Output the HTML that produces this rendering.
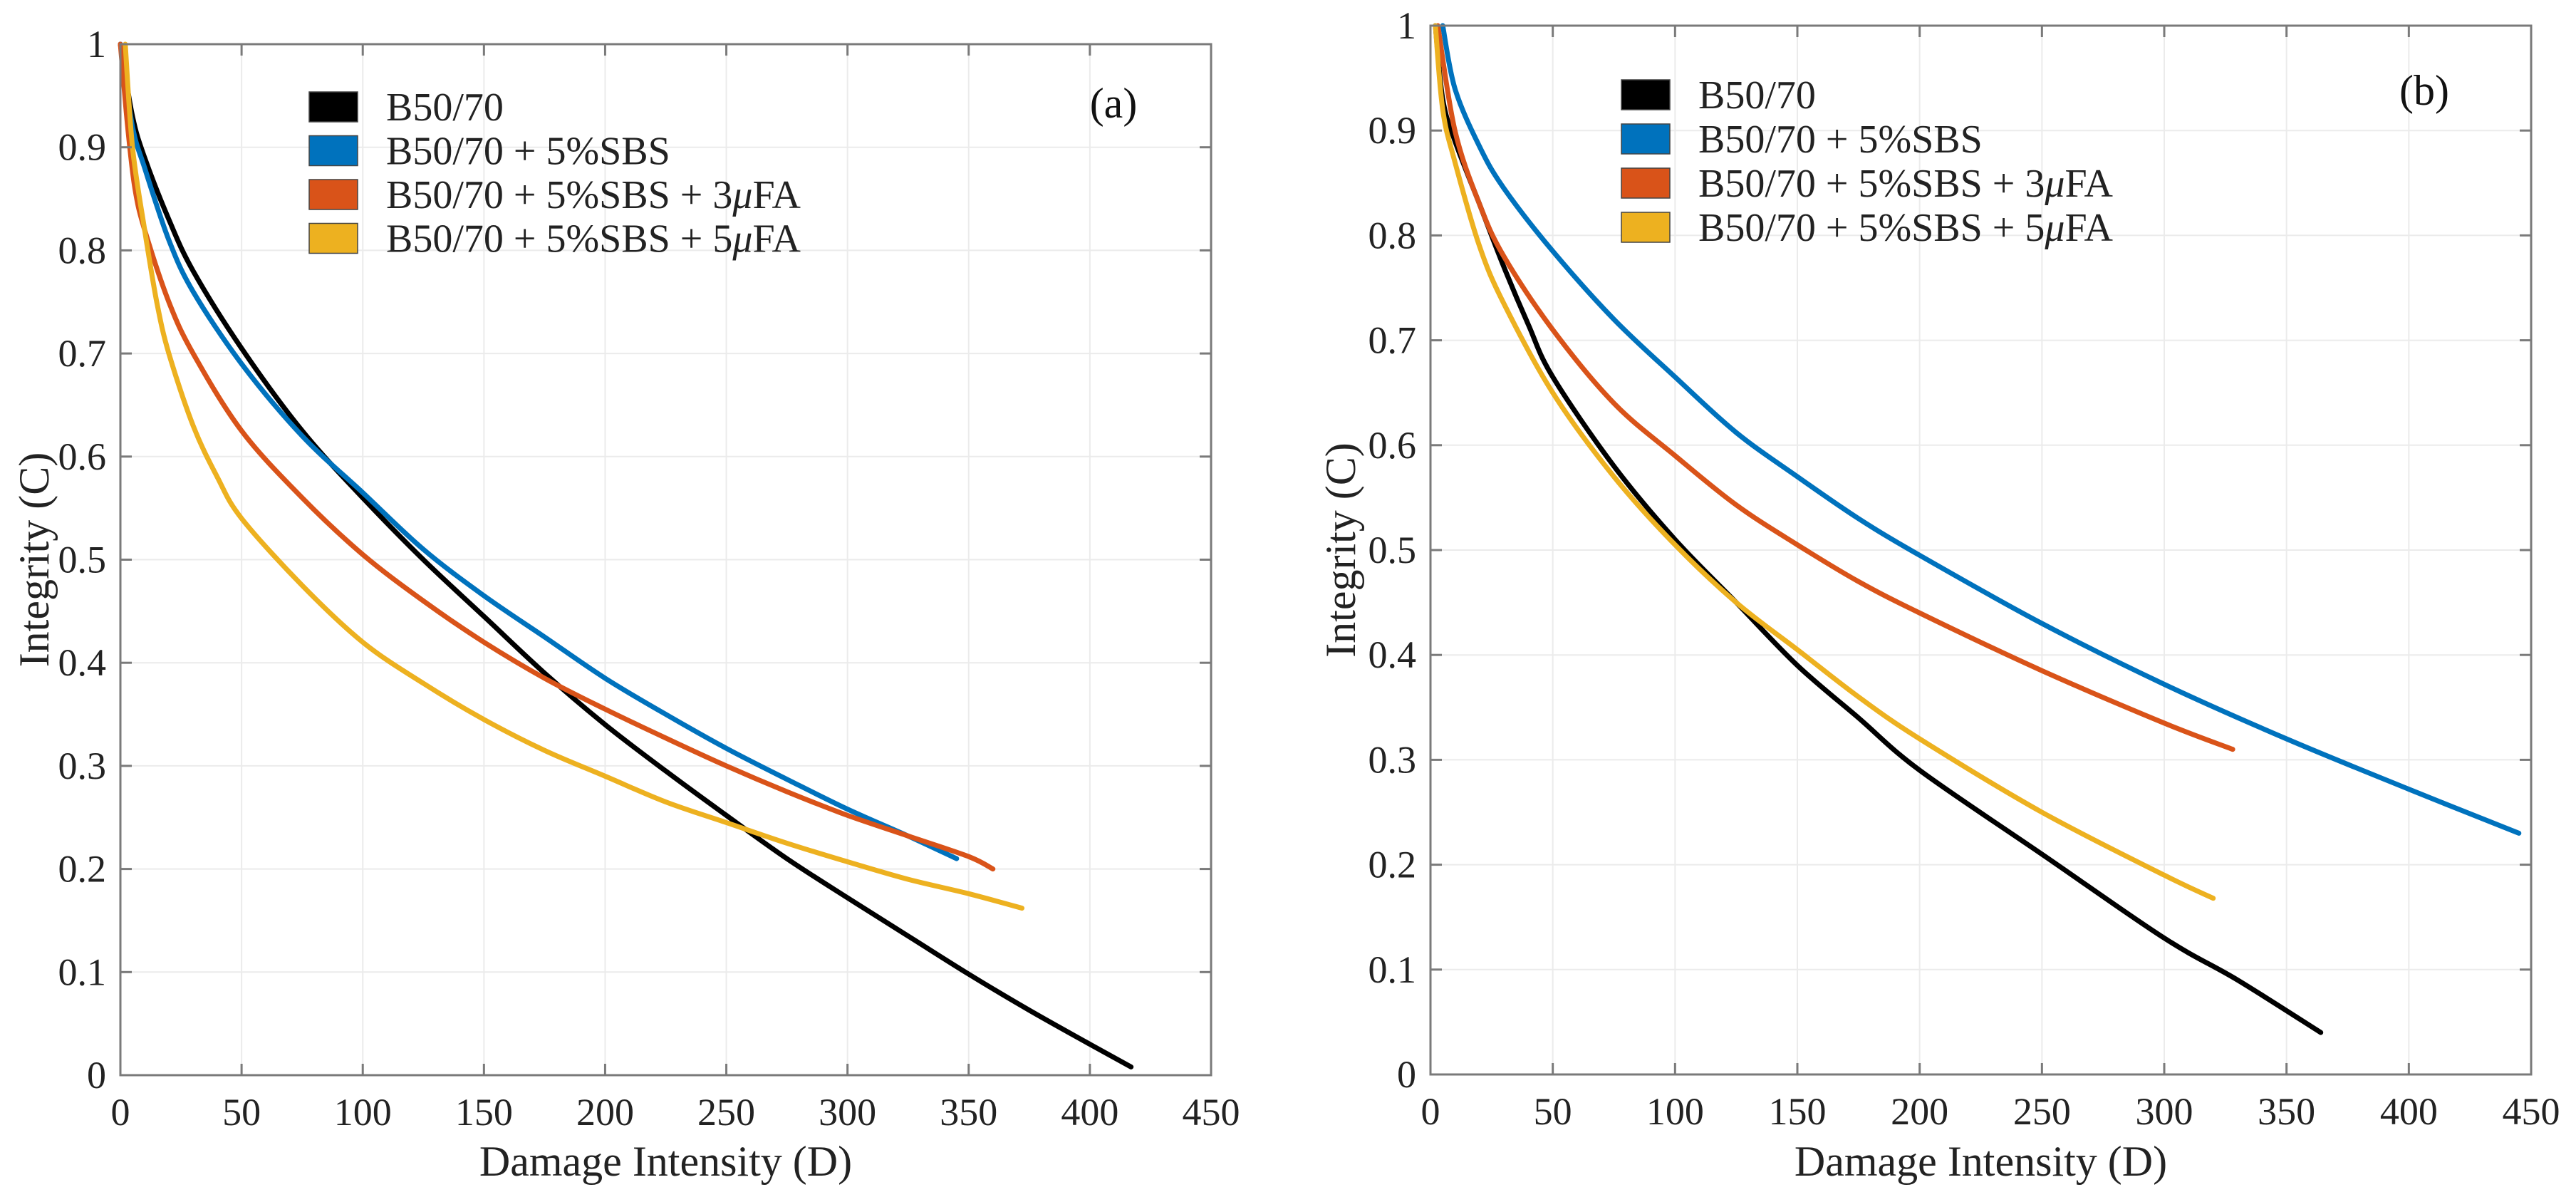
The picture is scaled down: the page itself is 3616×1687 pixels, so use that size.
<!DOCTYPE html>
<html><head><meta charset="utf-8"><style>
html,body{margin:0;padding:0;background:#fff;}
svg{display:block;}
svg text{font-family:"Liberation Serif","Times New Roman","DejaVu Serif","Noto Serif CJK SC",serif;}
</style></head><body>
<svg id="fig" width="3616" height="1687" viewBox="0 0 3616 1687" xmlns="http://www.w3.org/2000/svg"></svg>
<script>
const xTicks=[0,50,100,150,200,250,300,350,400,450];
const yTicks=[0,0.1,0.2,0.3,0.4,0.5,0.6,0.7,0.8,0.9,1];
const yTickLabels=["0","0.1","0.2","0.3","0.4","0.5","0.6","0.7","0.8","0.9","1"];
const seriesNames=["B50/70","B50/70 + 5%SBS","B50/70 + 5%SBS + 3","B50/70 + 5%SBS + 5"];
const colors=["#000000","#0072BD","#D95319","#EDB120"];
// panel (a)
const aBaseX=[0,5,10,20,30,50,75,100,125,150,175,200,225,250,275,300,325,350,375,400,417];
const aBaseY=[1,0.93,0.89,0.83,0.78,0.705,0.625,0.56,0.5,0.445,0.39,0.34,0.295,0.252,0.21,0.172,0.135,0.098,0.063,0.03,0.008];
const aSbsX=[0,5,10,20,30,50,75,100,125,150,175,200,225,250,275,300,325,345];
const aSbsY=[1,0.92,0.88,0.81,0.76,0.69,0.62,0.565,0.51,0.465,0.425,0.385,0.35,0.317,0.287,0.258,0.232,0.21];
const aFa3X=[0,3,6,10,20,30,50,75,100,125,150,175,200,225,250,275,300,325,350,360];
const aFa3Y=[1,0.92,0.86,0.82,0.75,0.70,0.625,0.56,0.505,0.46,0.42,0.385,0.355,0.327,0.3,0.275,0.252,0.232,0.212,0.2];
const aFa5X=[2,5,10,15,20,30,40,50,75,100,125,150,175,200,225,250,275,300,325,350,372];
const aFa5Y=[1,0.9,0.82,0.75,0.70,0.63,0.58,0.54,0.475,0.42,0.38,0.345,0.315,0.29,0.265,0.245,0.225,0.207,0.19,0.176,0.162];
// panel (b)
const bBaseX=[2,5,10,20,30,40,50,75,100,125,150,175,200,250,300,330,364];
const bBaseY=[1,0.93,0.89,0.83,0.77,0.715,0.665,0.58,0.51,0.45,0.39,0.34,0.29,0.21,0.13,0.09,0.04];
const bSbsX=[5,10,20,30,50,75,100,125,150,175,200,250,300,350,400,445];
const bSbsY=[1,0.94,0.885,0.845,0.785,0.72,0.665,0.612,0.57,0.53,0.495,0.43,0.372,0.32,0.272,0.23];
const bFa3X=[3,10,20,30,50,75,100,125,150,175,200,250,300,328];
const bFa3Y=[1,0.9,0.83,0.78,0.71,0.64,0.59,0.543,0.505,0.47,0.44,0.385,0.335,0.31];
const bFa5X=[2,5,10,20,30,50,75,100,125,150,175,200,250,300,320];
const bFa5Y=[1,0.92,0.87,0.79,0.735,0.65,0.57,0.505,0.45,0.405,0.36,0.32,0.25,0.19,0.168];

const NS="http://www.w3.org/2000/svg";
const svg=document.getElementById('fig');
function mk(tag,attrs,parent){const e=document.createElementNS(NS,tag);for(const k in attrs)e.setAttribute(k,attrs[k]);(parent||svg).appendChild(e);return e;}
function smooth(p){
  let d='M'+p[0][0].toFixed(1)+','+p[0][1].toFixed(1);
  for(let i=0;i<p.length-1;i++){
    const p0=p[Math.max(0,i-1)],p1=p[i],p2=p[i+1],p3=p[Math.min(p.length-1,i+2)];
    const c1=[p1[0]+(p2[0]-p0[0])/6,p1[1]+(p2[1]-p0[1])/6];
    const c2=[p2[0]-(p3[0]-p1[0])/6,p2[1]-(p3[1]-p1[1])/6];
    d+=' C'+c1[0].toFixed(1)+','+c1[1].toFixed(1)+' '+c2[0].toFixed(1)+','+c2[1].toFixed(1)+' '+p2[0].toFixed(1)+','+p2[1].toFixed(1);
  }
  return d;
}

function panel(cfg){
  const g=mk('g',{});
  
  
  const sx=v=>cfg.x0+(v/450)*(cfg.x1-cfg.x0);
  const sy=v=>cfg.y1-v*(cfg.y1-cfg.y0);
  xTicks.forEach(t=>{
    const l=mk('line',{x1:sx(t),x2:sx(t),y1:cfg.y0,y2:cfg.y1,stroke:'#ebebeb','stroke-width':2},g);
    
    
  });
  yTicks.forEach(t=>{
    const l=mk('line',{x1:cfg.x0,x2:cfg.x1,y1:sy(t),y2:sy(t),stroke:'#ebebeb','stroke-width':2},g);
    
    
  });
  cfg.series.forEach((s,i)=>{
    const pts=s[0].map((x,j)=>[sx(x),sy(s[1][j])]);
    const p=mk('path',{d:smooth(pts),fill:'none',stroke:colors[i],'stroke-width':7,'stroke-linejoin':'round','stroke-linecap':'round'},g);
    
    
  });
  const box=mk('rect',{x:cfg.x0,y:cfg.y0,width:cfg.x1-cfg.x0,height:cfg.y1-cfg.y0,fill:'none',stroke:'#7a7a7a','stroke-width':3},g);
  
  
  xTicks.forEach(t=>{
    mk('line',{x1:sx(t),x2:sx(t),y1:cfg.y1,y2:cfg.y1-16,stroke:'#7a7a7a','stroke-width':3},g);
    mk('line',{x1:sx(t),x2:sx(t),y1:cfg.y0,y2:cfg.y0+16,stroke:'#7a7a7a','stroke-width':3},g);
    const tx=mk('text',{x:sx(t),y:cfg.y1+70,'text-anchor':'middle','font-size':54,fill:'#222'},g);
    tx.textContent=String(t);
    
    
  });
  yTicks.forEach((t,i)=>{
    mk('line',{x1:cfg.x0,x2:cfg.x0+16,y1:sy(t),y2:sy(t),stroke:'#7a7a7a','stroke-width':3},g);
    mk('line',{x1:cfg.x1,x2:cfg.x1-16,y1:sy(t),y2:sy(t),stroke:'#7a7a7a','stroke-width':3},g);
    const tx=mk('text',{x:cfg.x0-20,y:sy(t)+18,'text-anchor':'end','font-size':54,fill:'#222'},g);
    tx.textContent=yTickLabels[i];
    
    
  });
  const xl=mk('text',{x:(cfg.x0+cfg.x1)/2,y:1650,'text-anchor':'middle','font-size':60,fill:'#222'},g);
  xl.textContent='Damage Intensity (D)';
  
  
  const yx=cfg.ylabelX, yy=(cfg.y0+cfg.y1)/2;
  const yl=mk('text',{x:yx,y:yy,'text-anchor':'middle','font-size':60,fill:'#222',transform:`rotate(-90 ${yx} ${yy})`},g);
  yl.textContent='Integrity (C)';
  
  
  const pl=mk('text',{x:cfg.tagX,y:cfg.tagY,'text-anchor':'middle','font-size':60,fill:'#111'},g);
  pl.textContent=cfg.tag;
  
  
  const lg=mk('g',{},g);
  
  
  seriesNames.forEach((n,i)=>{
    const cy=cfg.legY+i*cfg.legStep;
    const r=mk('rect',{x:cfg.legX,y:cy-21,width:68,height:42,fill:colors[i],stroke:'#444','stroke-width':1.5},lg);
    
    
    const t=mk('text',{x:cfg.legX+108,y:cy+19,'font-size':56,fill:'#222'},lg);
    t.textContent=n;
    if(i>=2){
      const mu=mk('tspan',{'font-style':'italic'},t);mu.textContent='μ';
      const fa=mk('tspan',{},t);fa.textContent='FA';
    }
    
    
  });
}
panel({name:'panel-a',x0:169,x1:1700,y0:62,y1:1509,ylabelX:68,tag:'(a)',tagX:1563,tagY:165,legX:434,legY:150,legStep:61.5,
  series:[[aBaseX,aBaseY],[aSbsX,aSbsY],[aFa3X,aFa3Y],[aFa5X,aFa5Y]]});
panel({name:'panel-b',x0:2008,x1:3553,y0:36,y1:1508,ylabelX:1902,tag:'(b)',tagX:3403,tagY:147,legX:2276,legY:133,legStep:62,
  series:[[bBaseX,bBaseY],[bSbsX,bSbsY],[bFa3X,bFa3Y],[bFa5X,bFa5Y]]});
</script>
</body></html>
